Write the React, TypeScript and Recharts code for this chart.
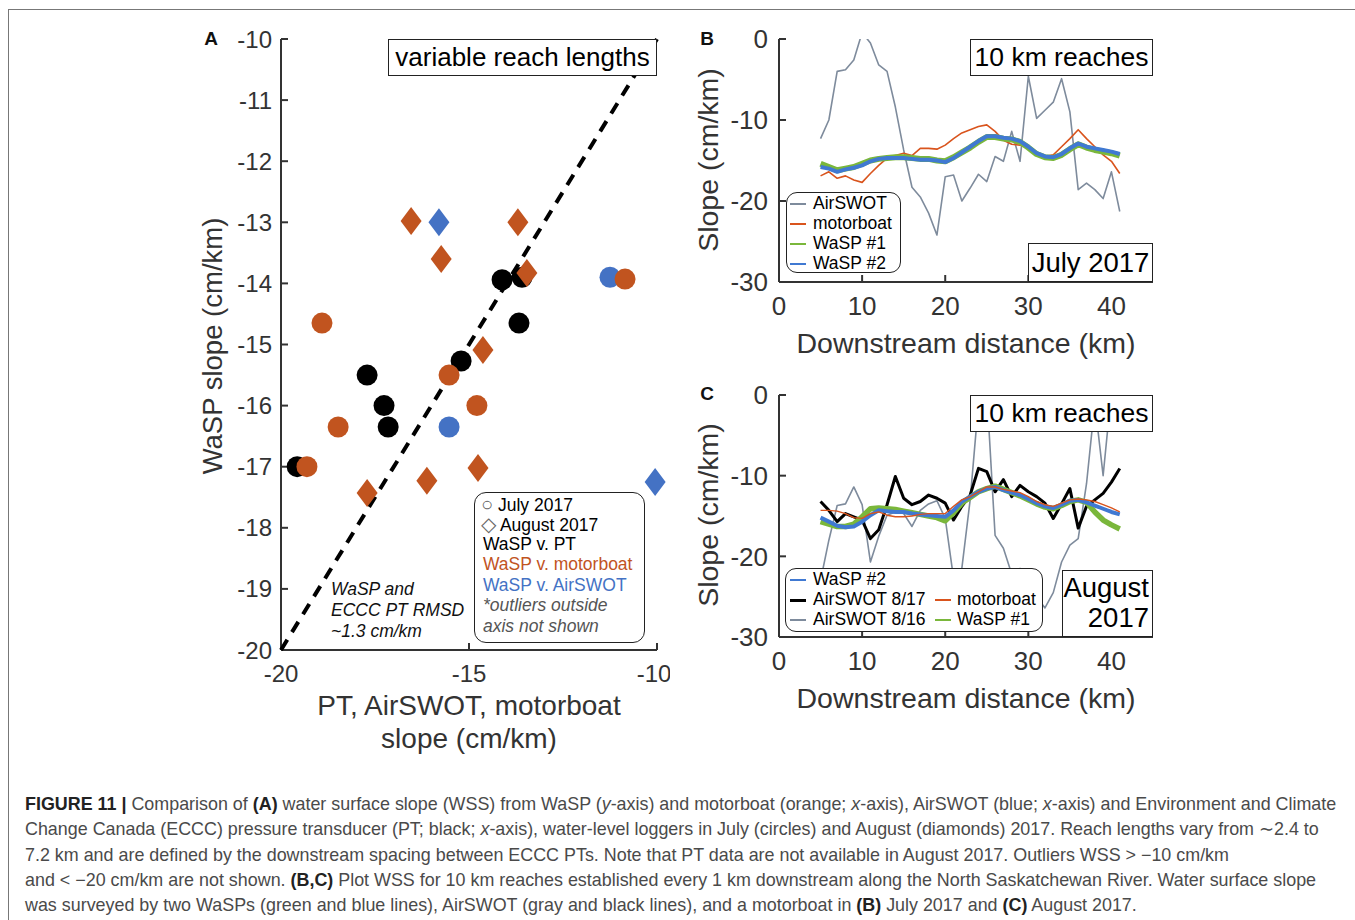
import React from "react"
import { ScatterChart, Scatter, XAxis, YAxis, LineChart, Line } from "recharts"

const FONT = '"Liberation Sans", Arial, Helvetica, sans-serif'
const AX = "#333"

// ---- panel A: July (circles) and August (diamonds) reach slopes
const PT_JULY_X = [-19.57, -17.71, -17.26, -17.15, -15.21, -14.12, -13.59, -13.67]
const PT_JULY_Y = [-17.0, -15.5, -16.0, -16.35, -15.27, -13.94, -13.9, -14.65]
const AIR_JULY_X = [-11.25, -15.53]
const AIR_JULY_Y = [-13.9, -16.35]
const BOAT_JULY_X = [-19.31, -18.91, -18.48, -15.53, -14.79, -10.85]
const BOAT_JULY_Y = [-17.0, -14.65, -16.35, -15.5, -16.0, -13.93]
const BOAT_AUG_X = [-16.54, -15.74, -13.7, -13.46, -14.63, -14.76, -16.12, -17.71]
const BOAT_AUG_Y = [-12.98, -13.6, -13.0, -13.83, -15.09, -17.02, -17.23, -17.43]
const AIR_AUG_X = [-15.8, -10.05]
const AIR_AUG_Y = [-13.0, -17.25]
const ONE_TO_ONE = [-20, -10]
const A_TICKS_X = [-20, -15, -10]
const A_TICKS_Y = [-20, -19, -18, -17, -16, -15, -14, -13, -12, -11, -10]

// ---- panels B, C: 10 km reaches, km downstream
const KM = [5, 6, 7, 8, 9, 10, 11, 12, 13, 14, 15, 16, 17, 18, 19, 20, 21, 22, 23, 24, 25, 26, 27, 28, 29, 30, 31, 32, 33, 34, 35, 36, 37, 38, 39, 40, 41]

const B_AIRSWOT = [-12.3, -10.0, -4.0, -3.8, -2.6, 0.8, -0.5, -3.2, -4.0, -8.4, -13.7, -18.3, -19.5, -21.5, -24.2, -17.0, -16.8, -20.0, -18.4, -16.7, -17.6, -14.5, -15.1, -11.4, -15.1, -4.6, -9.8, -8.8, -7.8, -4.9, -9.0, -18.6, -17.8, -18.6, -19.7, -16.4, -21.3]
const B_MOTORBOAT = [-16.9, -16.4, -17.2, -16.9, -17.4, -17.7, -16.6, -15.6, -14.7, -14.4, -14.1, -14.4, -13.5, -13.5, -13.6, -13.1, -12.3, -11.6, -11.2, -10.8, -10.6, -11.4, -12.5, -13.0, -13.1, -13.5, -14.1, -14.5, -14.3, -13.3, -12.3, -11.2, -12.3, -13.3, -14.3, -15.1, -16.6]
const B_WASP1 = [-15.4, -15.8, -16.2, -16.0, -15.8, -15.4, -15.0, -14.8, -14.7, -14.6, -14.6, -14.7, -14.8, -14.8, -15.0, -15.1, -14.6, -14.0, -13.4, -12.7, -12.1, -12.1, -12.3, -12.4, -12.7, -13.4, -14.2, -14.6, -14.7, -14.3, -13.6, -13.0, -13.4, -13.7, -13.9, -14.1, -14.4]
const B_WASP2 = [-15.8, -16.0, -16.4, -16.1, -15.9, -15.6, -15.1, -14.8, -14.7, -14.7, -14.7, -14.8, -14.9, -14.9, -15.0, -15.2, -14.7, -14.0, -13.3, -12.6, -12.0, -12.0, -12.2, -12.3, -12.6, -13.3, -14.1, -14.5, -14.6, -14.2, -13.5, -12.9, -13.3, -13.5, -13.7, -13.9, -14.2]

const C_AIRSWOT_816 = [-23.0, -18.0, -13.7, -13.5, -11.4, -13.6, -20.7, -17.5, -14.9, -14.5, -14.7, -16.3, -14.3, -13.5, -13.1, -15.3, -22.7, -21.5, -13.0, -1.0, 0.5, -17.4, -19.0, -22.2, -21.5, -21.8, -25.0, -26.4, -24.5, -20.7, -18.6, -17.8, -11.0, -1.0, -10.0, 0.5, 1.0]
const C_AIRSWOT_817 = [-13.2, -14.3, -15.7, -14.7, -15.1, -15.5, -17.8, -16.7, -13.6, -10.1, -12.8, -13.6, -13.2, -12.4, -12.8, -13.4, -15.5, -13.8, -12.4, -9.1, -9.5, -12.0, -10.5, -12.6, -11.2, -12.0, -12.6, -13.4, -15.3, -13.5, -11.6, -16.5, -13.8, -13.0, -12.2, -10.8, -9.1]
const C_MOTORBOAT = [-14.3, -14.3, -14.4, -14.7, -15.2, -15.3, -14.7, -14.5, -14.9, -15.1, -15.1, -15.0, -14.8, -14.7, -14.7, -14.7, -13.8, -13.0, -12.6, -12.0, -11.4, -11.4, -11.7, -11.9, -12.1, -12.6, -13.2, -13.6, -13.8, -13.4, -13.0, -12.9, -13.0, -13.2, -13.6, -14.0, -14.5]
const C_WASP1 = [-15.7, -16.0, -16.3, -16.3, -16.0, -15.1, -14.1, -14.0, -14.1, -14.2, -14.4, -14.6, -14.8, -15.0, -15.2, -15.6, -14.6, -13.4, -12.7, -12.0, -11.6, -11.3, -11.7, -12.1, -12.5, -13.0, -13.5, -13.9, -14.1, -13.7, -13.2, -13.0, -13.3, -14.5, -15.5, -16.1, -16.6]
const C_WASP2 = [-15.2, -15.7, -16.2, -16.4, -16.3, -15.7, -14.9, -14.3, -14.4, -14.5, -14.5, -14.7, -14.8, -14.9, -15.0, -15.1, -14.3, -13.2, -12.6, -12.0, -11.6, -11.4, -11.8, -12.1, -12.4, -12.9, -13.4, -13.8, -14.0, -13.6, -13.1, -13.0, -13.3, -13.7, -14.1, -14.5, -14.8]

const BC_TICKS_X = [0, 10, 20, 30, 40]
const BC_TICKS_Y = [-30, -20, -10, 0]

const ORANGE = "#c1541f"
const BLUE = "#4472c4"
const L_GRAY = "#7e8b9c"
const L_ORANGE = "#d9541d"
const L_GREEN = "#7ab73b"
const L_BLUE = "#4079d2"

const pts = (xs: number[], ys: number[]) => xs.map((x, i) => ({ x, y: ys[i] }))

const circle = (color: string) => (p: any) => <circle cx={p.cx} cy={p.cy} r={10.5} fill={color} />
const diamond = (color: string) => (p: any) => (
  <polygon
    points={`${p.cx},${p.cy - 14} ${p.cx + 10.5},${p.cy} ${p.cx},${p.cy + 14} ${p.cx - 10.5},${p.cy}`}
    fill={color}
  />
)

function T({ x, y, size = 17.5, color = AX, rot = 0, anchor = "middle", italic = false, bold = false, children }: any) {
  const tx = anchor === "middle" ? "-50%" : anchor === "end" ? "-100%" : "0"
  return (
    <div
      style={{
        position: "absolute",
        left: x,
        top: y,
        transform: `translate(${tx}, -50%) rotate(${rot}deg)`,
        fontSize: size,
        color,
        fontStyle: italic ? "italic" : "normal",
        fontWeight: bold ? "bold" : "normal",
        whiteSpace: "nowrap",
        lineHeight: 1,
      }}
    >
      {children}
    </div>
  )
}

function Box({ l, t, r, b, radius = 0, children, style }: any) {
  return (
    <div
      style={{
        position: "absolute",
        left: l,
        top: t,
        width: r - l,
        height: b - t,
        boxSizing: "border-box",
        border: `1.5px solid #222`,
        borderRadius: radius,
        background: "#fff",
        ...style,
      }}
    >
      {children}
    </div>
  )
}

function Swatch({ x, y, color, w = 2.5 }: any) {
  return <div style={{ position: "absolute", left: x, top: y - w / 2, width: 16, height: w, background: color }} />
}

const axisProps = { stroke: AX, strokeWidth: 2, tickSize: -7 }
const centered = { display: "flex", alignItems: "center", justifyContent: "center", color: "#000" }

function PanelA() {
  const tickA = { fill: AX, fontSize: 24, fontFamily: FONT }
  return (
    <div style={{ position: "absolute", left: 150, top: 0 }}>
      <ScatterChart width={520} height={710} margin={{ top: 39, right: 13, bottom: 0, left: 0 }}>
        <XAxis type="number" dataKey="x" domain={[-20, -10]} ticks={A_TICKS_X} height={60} tick={tickA} tickMargin={22} {...axisProps} />
        <XAxis xAxisId="top" orientation="top" type="number" dataKey="x" domain={[-20, -10]} ticks={A_TICKS_X} height={0} tick={false} {...axisProps} />
        <YAxis type="number" dataKey="y" domain={[-20, -10]} ticks={A_TICKS_Y} width={131} tick={tickA} tickMargin={16} {...axisProps} />
        <YAxis yAxisId="right" orientation="right" type="number" dataKey="y" domain={[-20, -10]} ticks={A_TICKS_Y} width={0} tick={false} {...axisProps} />
        <Scatter
          data={pts(ONE_TO_ONE, ONE_TO_ONE)}
          line={{ stroke: "#000", strokeWidth: 4, strokeDasharray: "12 9" }}
          shape={() => <g />}
          isAnimationActive={false}
        />
        <Scatter data={pts(PT_JULY_X, PT_JULY_Y)} shape={circle("#000")} isAnimationActive={false} />
        <Scatter data={pts(AIR_JULY_X, AIR_JULY_Y)} shape={circle(BLUE)} isAnimationActive={false} />
        <Scatter data={pts(BOAT_JULY_X, BOAT_JULY_Y)} shape={circle(ORANGE)} isAnimationActive={false} />
        <Scatter data={pts(AIR_AUG_X, AIR_AUG_Y)} shape={diamond(BLUE)} isAnimationActive={false} />
        <Scatter data={pts(BOAT_AUG_X, BOAT_AUG_Y)} shape={diamond(ORANGE)} isAnimationActive={false} />
      </ScatterChart>
    </div>
  )
}

function SlopePanel({ top, height, rows, series }: any) {
  const tickB = { fill: AX, fontSize: 26, fontFamily: FONT }
  return (
    <div style={{ position: "absolute", left: 700, top }}>
      <LineChart width={460} height={height} data={rows} margin={{ top: 39, right: 7, bottom: 0, left: 0 }}>
        <XAxis type="number" dataKey="x" domain={[0, 45]} ticks={BC_TICKS_X} height={60} tick={tickB} tickMargin={22} {...axisProps} />
        <XAxis xAxisId="top" orientation="top" type="number" dataKey="x" domain={[0, 45]} ticks={BC_TICKS_X} height={0} tick={false} {...axisProps} />
        <YAxis type="number" domain={[-30, 0]} ticks={BC_TICKS_Y} allowDataOverflow width={79} tick={tickB} tickMargin={18} {...axisProps} />
        <YAxis yAxisId="right" orientation="right" type="number" domain={[-30, 0]} ticks={BC_TICKS_Y} allowDataOverflow width={0} tick={false} {...axisProps} />
        {series.map((s: any) => (
          <Line
            key={s.key}
            dataKey={s.key}
            stroke={s.color}
            strokeWidth={s.w}
            dot={false}
            type="linear"
            strokeLinejoin="round"
            isAnimationActive={false}
          />
        ))}
      </LineChart>
    </div>
  )
}

const rowsB = KM.map((x, i) => ({ x, air: B_AIRSWOT[i], boat: B_MOTORBOAT[i], w1: B_WASP1[i], w2: B_WASP2[i] }))
const rowsC = KM.map((x, i) => ({
  x,
  a16: C_AIRSWOT_816[i],
  a17: C_AIRSWOT_817[i],
  boat: C_MOTORBOAT[i],
  w1: C_WASP1[i],
  w2: C_WASP2[i],
}))

const seriesB = [
  { key: "air", color: L_GRAY, w: 1.6 },
  { key: "boat", color: L_ORANGE, w: 1.6 },
  { key: "w1", color: L_GREEN, w: 6 },
  { key: "w2", color: L_BLUE, w: 4 },
]
const seriesC = [
  { key: "a16", color: L_GRAY, w: 1.6 },
  { key: "a17", color: "#000", w: 3 },
  { key: "w1", color: L_GREEN, w: 5.5 },
  { key: "w2", color: L_BLUE, w: 4 },
  { key: "boat", color: L_ORANGE, w: 1.4 },
]

const B = ({ children }: any) => <b style={{ color: "#222" }}>{children}</b>

export default function App() {
  return (
    <div
      style={{
        position: "absolute",
        left: 0,
        top: 0,
        width: 1355,
        height: 920,
        background: "#fff",
        fontFamily: FONT,
        overflow: "hidden",
      }}
    >
      {/* figure frame */}
      <div style={{ position: "absolute", left: 8, top: 9, width: 1400, height: 1000, borderLeft: "1px solid #777", borderTop: "1px solid #777" }} />

      <PanelA />
      <SlopePanel top={0} height={342} rows={rowsB} series={seriesB} />
      <SlopePanel top={356} height={341} rows={rowsC} series={seriesC} />

      {/* panel letters */}
      <T x={211} y={38} size={19} color="#111" bold>A</T>
      <T x={707} y={38} size={19} color="#111" bold>B</T>
      <T x={707} y={393} size={19} color="#111" bold>C</T>

      {/* panel A annotations */}
      <T x={213} y={346} size={27.5} rot={-90}>WaSP slope (cm/km)</T>
      <T x={469} y={706} size={28}>PT, AirSWOT, motorboat</T>
      <T x={469} y={739} size={28}>slope (cm/km)</T>
      <Box l={388} t={39} r={657} b={76} style={{ ...centered, fontSize: 26 }}>
        variable reach lengths
      </Box>
      <T x={331} y={590} anchor="start" italic color="#111">WaSP and</T>
      <T x={331} y={611} anchor="start" italic color="#111">ECCC PT RMSD</T>
      <T x={331} y={632} anchor="start" italic color="#111">~1.3 cm/km</T>
      <Box l={474} t={492} r={645} b={643} radius={12} />
      <T x={481} y={504} anchor="start" color="#000"><span style={{ color: "#666", fontSize: 20 }}>○</span> July 2017</T>
      <T x={481} y={524} anchor="start" color="#000"><span style={{ color: "#666", fontSize: 20 }}>◇</span> August 2017</T>
      <T x={483} y={545} anchor="start" color="#000">WaSP v. PT</T>
      <T x={483} y={565} anchor="start" color={ORANGE}>WaSP v. motorboat</T>
      <T x={483} y={586} anchor="start" color={BLUE}>WaSP v. AirSWOT</T>
      <T x={483} y={606} anchor="start" italic color="#555">*outliers outside</T>
      <T x={483} y={627} anchor="start" italic color="#555">axis not shown</T>

      {/* panel B annotations */}
      <T x={708} y={160} size={28.5} rot={-90}>Slope (cm/km)</T>
      <T x={966} y={343} size={28.5}>Downstream distance (km)</T>
      <Box l={970} t={39} r={1153} b={76} style={{ ...centered, fontSize: 26.5 }}>
        10 km reaches
      </Box>
      <Box l={1028} t={243} r={1153} b={282} style={{ ...centered, fontSize: 27.5 }}>
        July 2017
      </Box>
      <Box l={786} t={192} r={901} b={273} radius={11} />
      <Swatch x={790} y={204} color={L_GRAY} />
      <Swatch x={790} y={224} color={L_ORANGE} />
      <Swatch x={790} y={244} color={L_GREEN} />
      <Swatch x={790} y={264} color={L_BLUE} />
      <T x={813} y={204} anchor="start" color="#000">AirSWOT</T>
      <T x={813} y={224} anchor="start" color="#000">motorboat</T>
      <T x={813} y={244} anchor="start" color="#000">WaSP #1</T>
      <T x={813} y={264} anchor="start" color="#000">WaSP #2</T>

      {/* panel C annotations */}
      <T x={708} y={515} size={28.5} rot={-90}>Slope (cm/km)</T>
      <T x={966} y={698} size={28.5}>Downstream distance (km)</T>
      <Box l={970} t={395} r={1153} b={432} style={{ ...centered, fontSize: 26.5 }}>
        10 km reaches
      </Box>
      <Box l={1062} t={570} r={1153} b={637} style={{ fontSize: 27.5, color: "#000", textAlign: "right", lineHeight: "30px", padding: "2px 3px 0 0" }}>
        August
        <br />
        2017
      </Box>
      <Box l={785} t={568} r={1043} b={632} radius={11} />
      <Swatch x={790} y={580} color={L_BLUE} />
      <Swatch x={790} y={600} color="#000" w={3} />
      <Swatch x={790} y={620} color={L_GRAY} />
      <Swatch x={935} y={600} color={L_ORANGE} />
      <Swatch x={935} y={620} color={L_GREEN} />
      <T x={813} y={580} anchor="start" color="#000">WaSP #2</T>
      <T x={813} y={600} anchor="start" color="#000">AirSWOT 8/17</T>
      <T x={813} y={620} anchor="start" color="#000">AirSWOT 8/16</T>
      <T x={957} y={600} anchor="start" color="#000">motorboat</T>
      <T x={957} y={620} anchor="start" color="#000">WaSP #1</T>

      {/* caption */}
      <div style={{ position: "absolute", left: 25, top: 792, fontSize: 17.9, lineHeight: "25.3px", color: "#4a4a4a", whiteSpace: "nowrap" }}>
        <div>
          <B>FIGURE 11 |</B> Comparison of <B>(A)</B> water surface slope (WSS) from WaSP (<i>y</i>-axis) and motorboat (orange; <i>x</i>-axis), AirSWOT (blue; <i>x</i>-axis) and Environment and Climate
        </div>
        <div>
          Change Canada (ECCC) pressure transducer (PT; black; <i>x</i>-axis), water-level loggers in July (circles) and August (diamonds) 2017. Reach lengths vary from ∼2.4 to
        </div>
        <div>
          7.2 km and are defined by the downstream spacing between ECCC PTs. Note that PT data are not available in August 2017. Outliers WSS &gt; −10 cm/km
        </div>
        <div>
          and &lt; −20 cm/km are not shown. <B>(B,C)</B> Plot WSS for 10 km reaches established every 1 km downstream along the North Saskatchewan River. Water surface slope
        </div>
        <div>
          was surveyed by two WaSPs (green and blue lines), AirSWOT (gray and black lines), and a motorboat in <B>(B)</B> July 2017 and <B>(C)</B> August 2017.
        </div>
      </div>
    </div>
  )
}
